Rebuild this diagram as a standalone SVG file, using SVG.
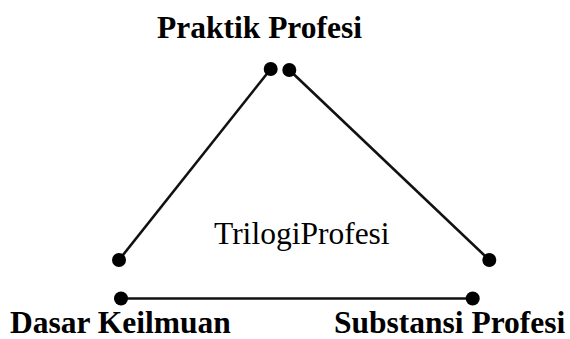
<svg xmlns="http://www.w3.org/2000/svg" width="570" height="339" viewBox="0 0 570 339">
<style>
.lbl{font-family:"Liberation Serif","Times New Roman",serif;font-weight:bold;font-size:31.5px;fill:#000}
.ctr{font-family:"Liberation Serif","Times New Roman",serif;font-size:31.5px;fill:#000}
.ln{stroke:#111;stroke-width:2.6;fill:none}
.dot{fill:#000}
</style>
<rect width="570" height="339" fill="#fff"/>
<g id="connectors">
<line class="ln" x1="270.7" y1="69" x2="119" y2="260"/>
<line class="ln" x1="289.3" y1="70" x2="489.3" y2="260"/>
<line class="ln" x1="121" y1="298.5" x2="472.7" y2="298.5"/>
<circle class="dot" cx="270.7" cy="69" r="7"/>
<circle class="dot" cx="289.3" cy="70" r="7"/>
<circle class="dot" cx="119" cy="260" r="7"/>
<circle class="dot" cx="489.3" cy="260" r="7"/>
<circle class="dot" cx="121" cy="298.5" r="7"/>
<circle class="dot" cx="472.7" cy="298.5" r="7"/>
</g>
<g id="praktik"><text class="lbl" x="157" y="37.7">Praktik Profesi</text></g>
<g id="dasar"><text class="lbl" x="10" y="332.5">Dasar Keilmuan</text></g>
<g id="substansi"><text class="lbl" x="334" y="332.5">Substansi Profesi</text></g>
<g id="center"><text class="ctr" x="214" y="244">TrilogiProfesi</text></g>
</svg>
